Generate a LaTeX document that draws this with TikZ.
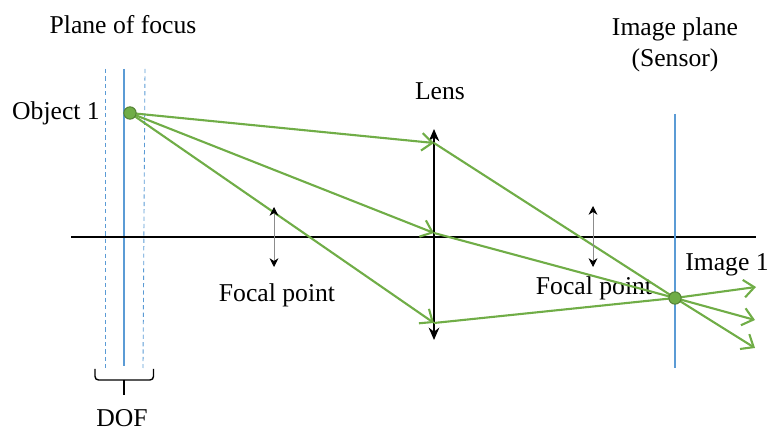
\documentclass[tikz,border=0pt]{standalone}
\usepackage{fontspec}
\setmainfont{Liberation Serif}
\usetikzlibrary{arrows.meta}
\definecolor{raygreen}{HTML}{70AD47}
\definecolor{planeblue}{HTML}{5B9BD5}
\begin{document}
\begin{tikzpicture}[>=Stealth,font=\fontsize{14.6}{18}\selectfont,
 lbl/.style={inner sep=0pt,align=center},
 ray/.style={raygreen,line width=1.2pt},
 rayarrow/.style={ray,-{Straight Barb[length=6pt,width=10pt]}},
 spot/.style={circle,draw=raygreen!75!black,line width=0.6pt,fill=raygreen,minimum size=7pt,inner sep=0pt},
 plane/.style={planeblue,line width=1.4pt},
 dof/.style={planeblue,line width=0.5pt,dash pattern=on 2.4pt off 1.8pt},
 focal/.style={black!45,line width=0.5pt,
  {Stealth[black,length=5pt,width=5pt]}-{Stealth[black,length=5pt,width=5pt]}}]
\useasboundingbox (0,0) rectangle (15.38,8.6);
\node[lbl] (focusLbl) at (2.46,8.1) {Plane of focus};
\node[lbl] (objLbl) at (1.12,6.34) {Object 1};
\node[lbl] (lensLbl) at (8.8,6.78) {Lens};
\node[lbl] (sensorLbl) at (13.5,7.70) {Image plane\\(Sensor)};
\node[lbl] (imgLbl) at (14.54,3.30) {Image 1};
\node[lbl] (f1Lbl) at (5.54,2.70) {Focal point};
\node[lbl] (f2Lbl) at (11.88,2.84) {Focal point};
\node[lbl] (dofLbl) at (2.44,0.24) {DOF};
% planes
\coordinate (pT) at (2.48,7.22); \coordinate (pB) at (2.48,1.28);
\coordinate (d1T) at (2.10,7.22); \coordinate (d1B) at (2.10,1.24);
\coordinate (d2T) at (2.90,7.22); \coordinate (d2B) at (2.86,1.24);
\coordinate (sT) at (13.5,6.32); \coordinate (sB) at (13.5,1.24);
\draw[dof] (d1T)--(d1B); \draw[dof] (d2T)--(d2B);
\draw[plane] (pT)--(pB);
% axis and lens
\coordinate (axL) at (1.42,3.86); \coordinate (axR) at (15.12,3.86);
\draw[line width=1pt] (axL)--(axR);
\draw[plane] (sT)--(sB);
\coordinate (lensT) at (8.68,6.02); \coordinate (lensB) at (8.68,1.80);
\draw[line width=1.3pt,{Stealth[length=7pt,width=6pt]}-{Stealth[length=7pt,width=6pt]}] (lensT)--(lensB);
% rays
\coordinate (h1) at (8.68,5.74); \coordinate (h2) at (8.68,3.94); \coordinate (h3) at (8.68,2.14);
\coordinate (o1) at (15.12,2.86); \coordinate (o2) at (15.10,2.20); \coordinate (o3) at (15.10,1.64);
\coordinate (obj0) at (2.60,6.34); \coordinate (img0) at (13.5,2.64);
\draw[rayarrow] (obj0)--(h1); \draw[rayarrow] (obj0)--(h2); \draw[rayarrow] (obj0)--(h3);
\draw[ray] (h1)--(img0); \draw[ray] (h2)--(img0); \draw[ray] (h3)--(img0);
\draw[rayarrow] (img0)--(o1); \draw[rayarrow] (img0)--(o2); \draw[rayarrow] (img0)--(o3);
\node[spot] (obj) at (obj0) {}; \node[spot] (img) at (img0) {};
% focal marks
\coordinate (f1T) at (5.48,4.46); \coordinate (f1B) at (5.48,3.26);
\coordinate (f2T) at (11.86,4.48); \coordinate (f2B) at (11.86,3.26);
\draw[focal] (f1T)--(f1B); \draw[focal] (f2T)--(f2B);
% brace
\coordinate (brL) at (1.90,1.22); \coordinate (brR) at (3.07,1.22);
\coordinate (brMid) at (2.48,1.00); \coordinate (brTip) at (2.48,0.70);
\draw[line width=0.8pt,rounded corners=2pt] (brL)|-(brMid)-|(brR);
\draw[line width=0.8pt] (brMid)--(brTip);
\end{tikzpicture}
\end{document}
